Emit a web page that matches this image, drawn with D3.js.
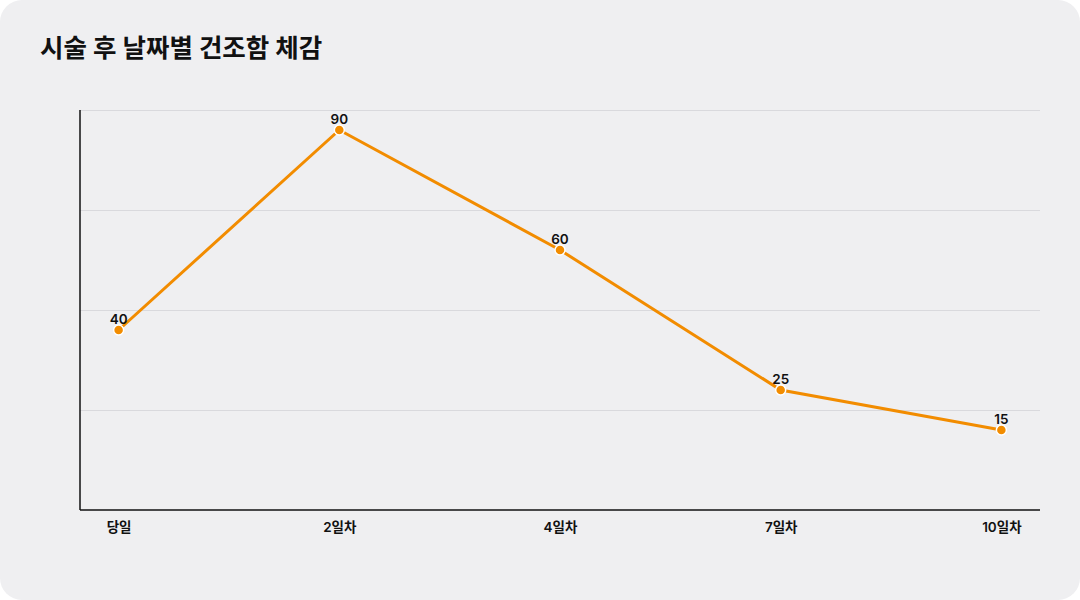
<!DOCTYPE html>
<html><head><meta charset="utf-8">
<script src="https://cdn.jsdelivr.net/npm/d3@7"></script>
<style>html,body{margin:0;padding:0;background:#fff;}svg{display:block;}</style>
</head><body>
<svg id="c" width="1080" height="600"></svg>
<script>
const categories = ["당일","2일차","4일차","7일차","10일차"];
const values = [40,90,60,25,15];
const title = "시술 후 날짜별 건조함 체감";

const svg = d3.select("#c");
const font = "Inter, 'Noto Sans CJK KR', sans-serif";
svg.append("rect").attr("width",1080).attr("height",600).attr("rx",22).attr("fill","#efeff1");
svg.append("text").attr("x",40).attr("y",57).text(title)
  .attr("font-family",font).attr("font-size",25.5).attr("font-weight",700).attr("fill","#111");

const L=80,R=1040,T=110,B=510;
const x = d3.scalePoint().domain(categories).range([L,R]).padding(0.175);
const y = d3.scaleLinear().domain([-5,95]).range([B,T]);

const grid = svg.append("g").attr("transform",`translate(${L},0)`)
  .call(d3.axisLeft(y).tickValues([20,45,70,95]).tickSize(-(R-L)).tickFormat(""));
grid.select(".domain").remove();
grid.selectAll("line").attr("stroke","#d9d9dd").attr("stroke-width",1);

svg.append("line").attr("x1",L).attr("x2",L).attr("y1",T).attr("y2",B).attr("stroke","#111").attr("stroke-width",1.5);
const xa = svg.append("g").attr("transform",`translate(0,${B})`).call(d3.axisBottom(x).tickSize(0).tickPadding(12));
xa.select(".domain").attr("d",`M${L},0H${R}`).attr("stroke","#111").attr("stroke-width",1.5);
xa.selectAll("text").attr("font-family",font).attr("font-size",13.5).attr("font-weight",600).attr("fill","#111");

const data = categories.map((c,i)=>({c,v:values[i]}));
svg.append("path").datum(data)
  .attr("d",d3.line().x(d=>x(d.c)).y(d=>y(d.v)))
  .attr("fill","none").attr("stroke","#f28c00").attr("stroke-width",3);
svg.selectAll(".pt").data(data).join("circle")
  .attr("cx",d=>x(d.c)).attr("cy",d=>y(d.v)).attr("r",5)
  .attr("fill","#f28c00").attr("stroke","#fff").attr("stroke-width",1.5);
svg.selectAll(".lb").data(data).join("text")
  .attr("x",d=>x(d.c)).attr("y",d=>y(d.v)-6).attr("text-anchor","middle")
  .text(d=>d.v).attr("font-family",font).attr("font-size",13.5).attr("font-weight",600).attr("fill","#111");
</script>
</body></html>
